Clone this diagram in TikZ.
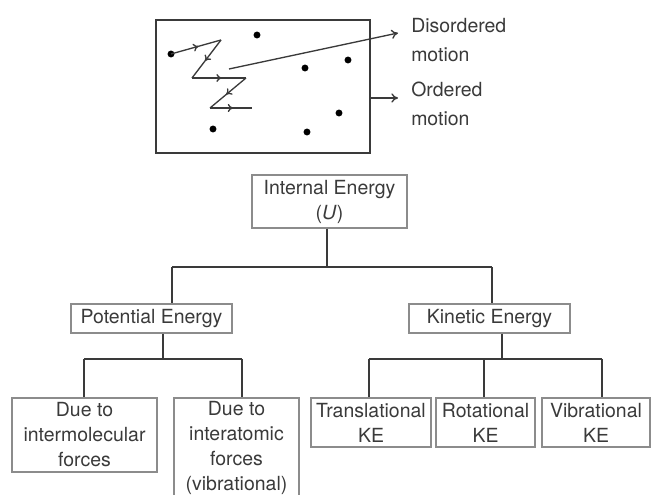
\documentclass[tikz,border=0pt]{standalone}
\usepackage{fontspec}
\setsansfont{TeX Gyre Heros}
\usetikzlibrary{arrows.meta,decorations.markings}

\definecolor{inkgray}{HTML}{3A3A3A}
\definecolor{boxgray}{HTML}{8C8C8C}

\tikzset{
    ebox/.style={draw=boxgray, line width=1pt, text=inkgray, align=center, inner sep=0pt,
        font=\sffamily\fontsize{14.6}{18.75}\selectfont},
    sz/.style 2 args={minimum width=#1*0.75pt, minimum height=#2*0.75pt},
    tree/.style={draw=inkgray, line width=1.1pt},
    lbl/.style={text=inkgray, align=left, inner sep=0pt, anchor=west,
        font=\sffamily\fontsize{14.6}{21.75}\selectfont},
    flow/.style={postaction={decorate}, decoration={markings,
        mark=at position 0.55 with {\arrow{To[length=4pt,width=6pt]}}}},
}

\begin{document}
\begin{tikzpicture}[x=0.75pt, y=-0.75pt]
    \clip (0,0) rectangle (651,495);

    % gas container
    \node[draw=inkgray, line width=1.3pt, sz={214}{133}] (gas) at (263,86.5) {};
    \foreach \p in {(171,54),(257,35),(305,68),(348,60),(339,113),(213,129),(307,132)}
        \fill \p circle[radius=2.6pt];
    \draw[flow, inkgray, line width=1pt] (171,54) -- (221,40);
    \draw[flow, inkgray, line width=1pt] (221,40) -- (192,78);
    \draw[flow, inkgray, line width=1pt] (192,78) -- (246,78);
    \draw[flow, inkgray, line width=1pt] (246,78) -- (210,108);
    \draw[flow, inkgray, line width=1pt] (210,108) -- (252,108);

    \node[lbl] (dis) at (411,40) {Disordered\\motion};
    \node[lbl] (ord) at (411,104) {Ordered\\motion};
    \coordinate (distail) at (229,69);
    \coordinate (distip) at (398,33);
    \coordinate (ordtip) at (398,98);
    \draw[-{To[length=5pt,width=7pt]}, inkgray, line width=1pt] (distail) -- (distip);
    \draw[-{To[length=5pt,width=7pt]}, inkgray, line width=1pt] (gas.east |- ordtip) -- (ordtip);

    % energy tree
    \node[ebox, sz={155}{53}] (ie) at (329.5,201.5) {Internal Energy\\(\textit{U})};
    \node[ebox, sz={161}{29}] (pe) at (151.5,318.5) {Potential Energy};
    \node[ebox, sz={161}{29}] (ke) at (489.5,318.5) {Kinetic Energy};

    \node[ebox, sz={145}{74}] (inter) at (84.5,435) {Due to\\intermolecular\\forces};
    \node[ebox, sz={125}{99}] (atom) at (236.5,447.5) {Due to\\interatomic\\forces\\(vibrational)};
    \node[ebox, sz={120}{49}] (trans) at (371,422.5) {Translational\\KE};
    \node[ebox, sz={99}{49}] (rot) at (485.5,422.5) {Rotational\\KE};
    \node[ebox, sz={108}{49}] (vib) at (596,422.5) {Vibrational\\KE};

    \coordinate (busA) at (327,267);
    \coordinate (busAl) at (172,267);
    \coordinate (busAr) at (492,267);
    \draw[tree] (ie.south -| busA) -- (busA);
    \draw[tree] (busAl) -- (busAr);
    \draw[tree] (busAl) -- (busAl |- pe.north);
    \draw[tree] (busAr) -- (busAr |- ke.north);

    \coordinate (busP) at (163,359);
    \coordinate (busPl) at (84,359);
    \coordinate (busPr) at (242,359);
    \draw[tree] (pe.south -| busP) -- (busP);
    \draw[tree] (busPl) -- (busPr);
    \draw[tree] (busPl) -- (busPl |- inter.north);
    \draw[tree] (busPr) -- (busPr |- atom.north);

    \coordinate (busK) at (502,359);
    \coordinate (busKl) at (369,359);
    \coordinate (busKm) at (484,359);
    \coordinate (busKr) at (602,359);
    \draw[tree] (ke.south -| busK) -- (busK);
    \draw[tree] (busKl) -- (busKr);
    \draw[tree] (busKl) -- (busKl |- trans.north);
    \draw[tree] (busKm) -- (busKm |- rot.north);
    \draw[tree] (busKr) -- (busKr |- vib.north);
\end{tikzpicture}
\end{document}
